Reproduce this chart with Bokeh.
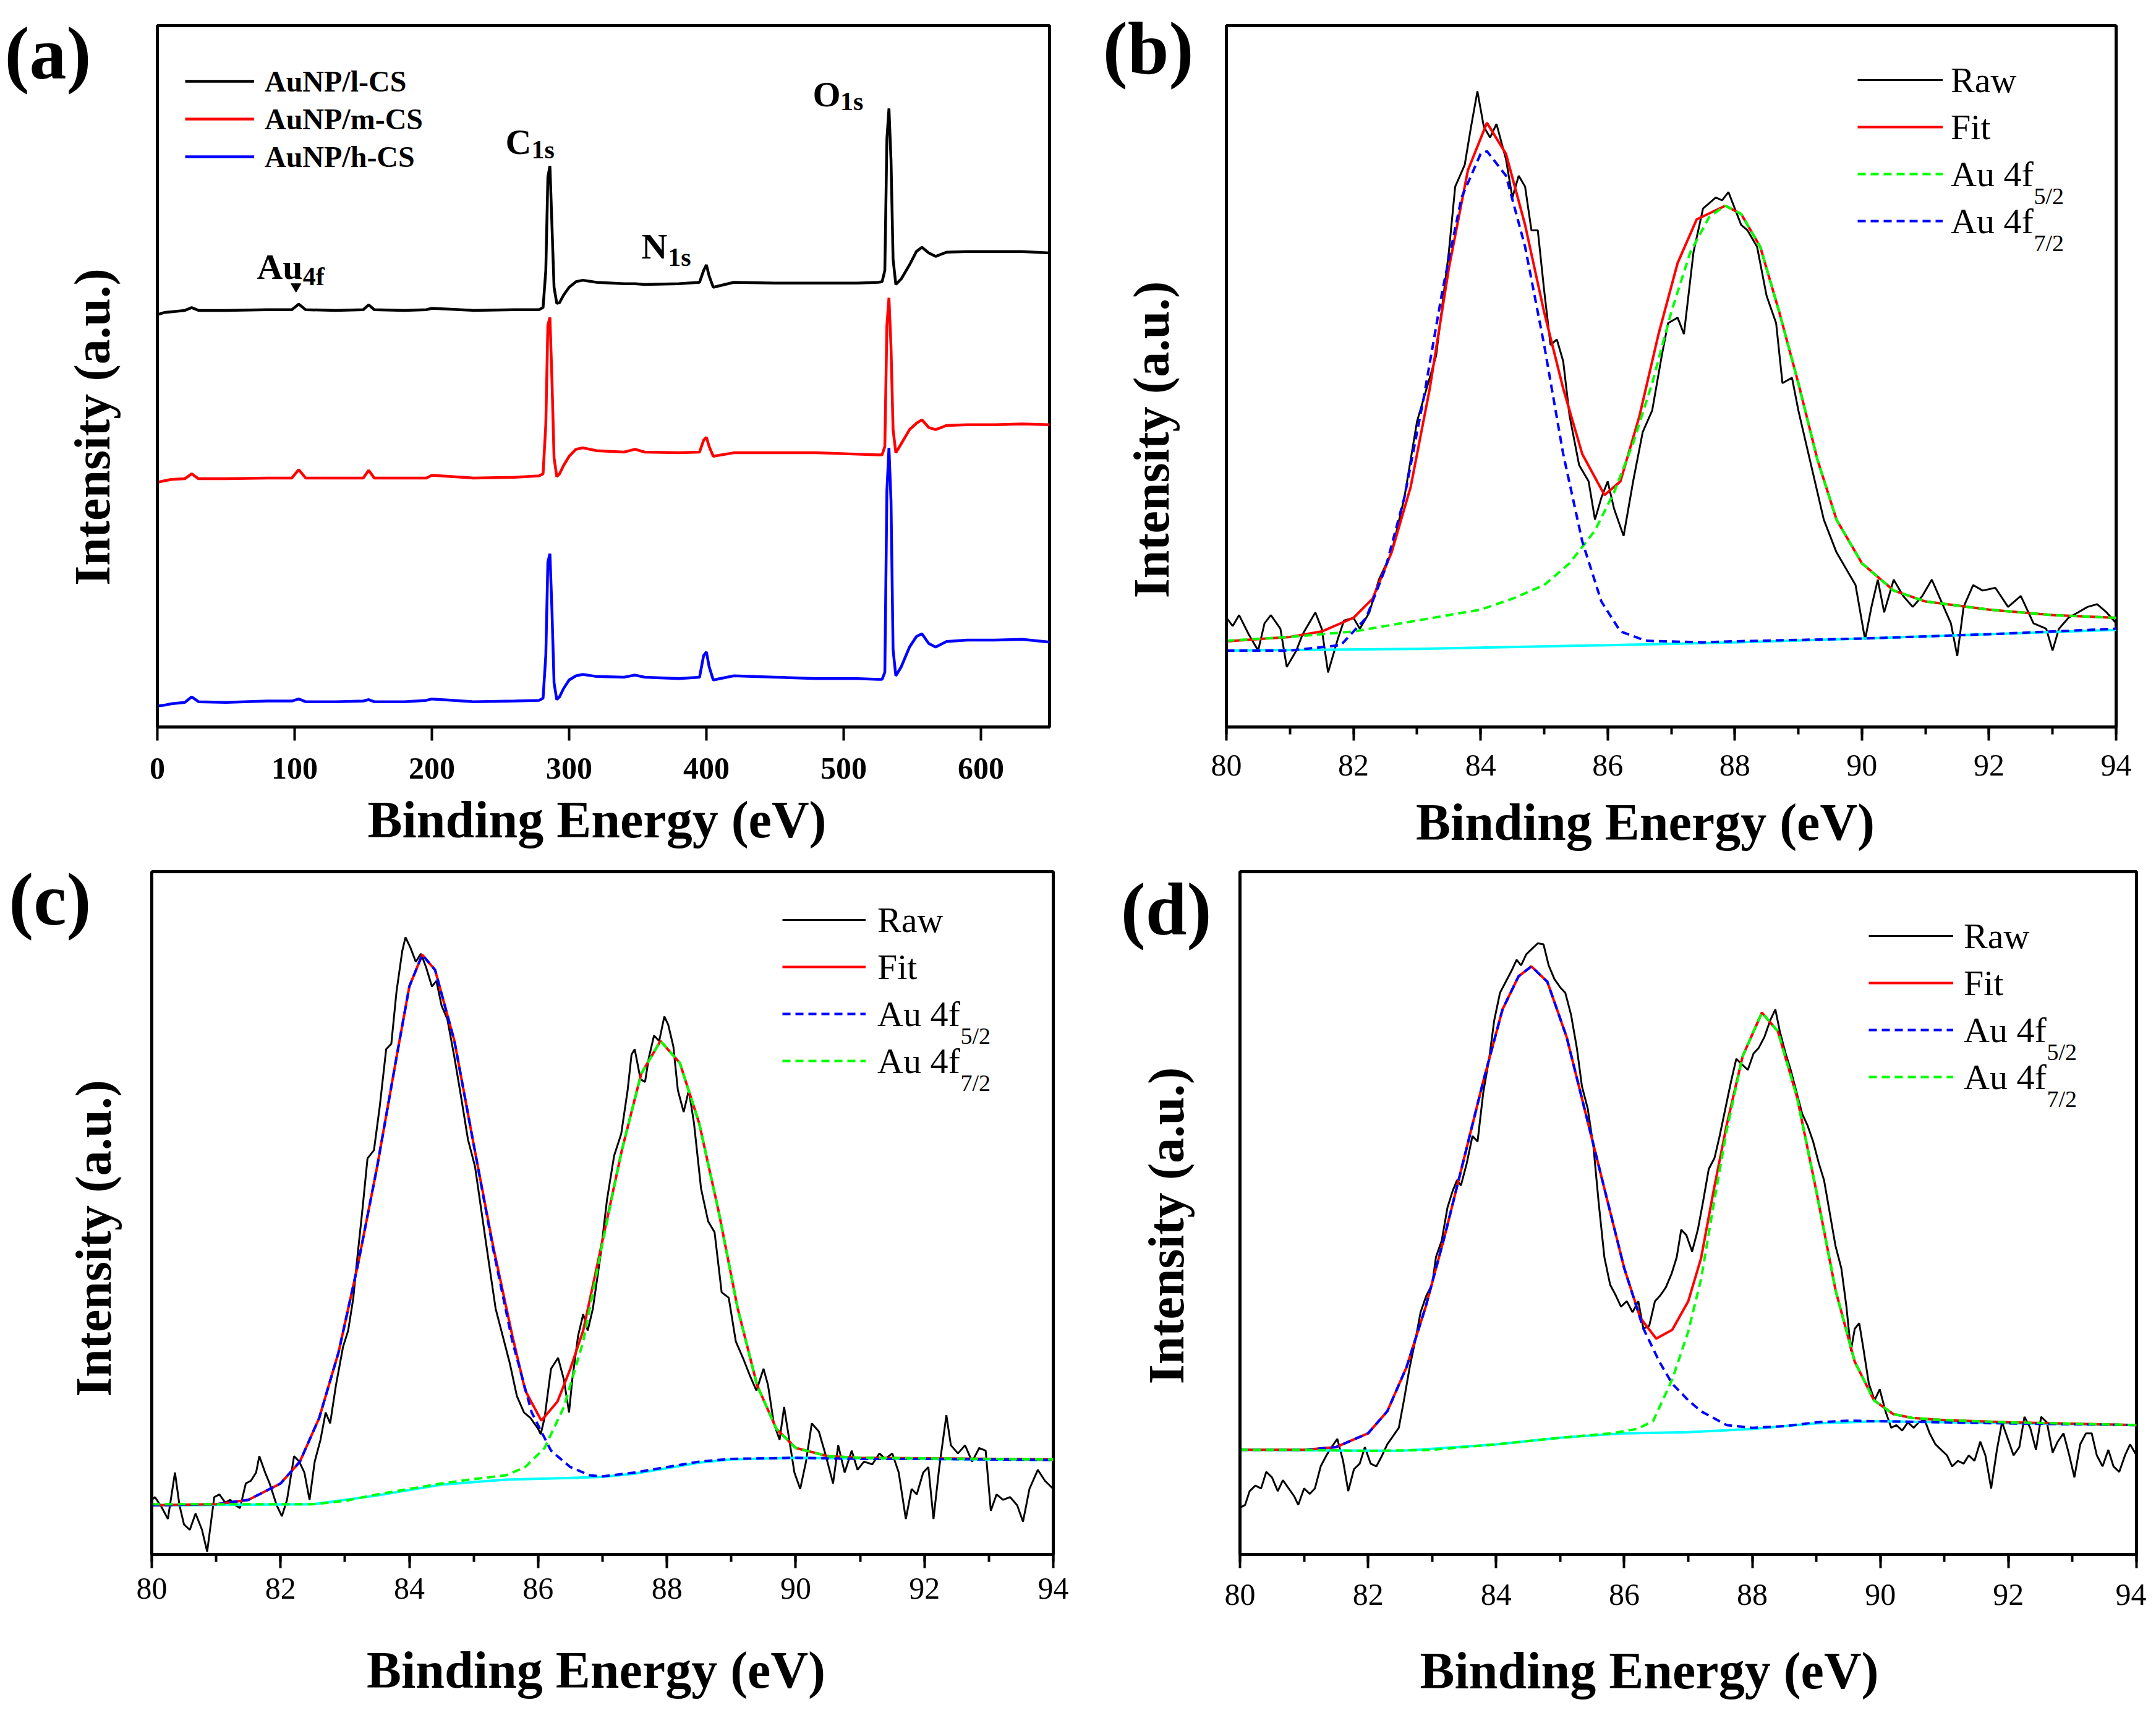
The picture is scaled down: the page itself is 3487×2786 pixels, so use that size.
from bokeh.plotting import figure
from bokeh.models import Range1d, FixedTicker, Legend, LegendItem, Label, ColumnDataSource
from bokeh.layouts import column, row
from bokeh.embed import file_html
from bokeh.resources import INLINE
from bokeh.core.properties import value

FONT = "Liberation Serif"

# ---------------- panel (a): survey spectra ----------------
a_x = [0, 5, 10, 20, 25, 30, 50, 80, 98, 103, 108, 130, 150, 154, 158, 180, 196, 200, 230, 260,
       278, 281, 283, 284.5, 286, 287.5, 289, 291, 293, 296, 300, 305, 310, 320, 340, 348, 355, 380, 395, 398,
       400, 402, 405, 420, 450, 480, 510, 525, 528, 530, 531.5, 533, 534.5, 536, 538, 542, 548, 553, 557, 562,
       567, 575, 590, 610, 630, 650]
a_low = [58.8, 59.1, 59.2, 59.4, 59.8, 59.4, 59.4, 59.5, 59.5, 60.3,
         59.5, 59.4, 59.5, 60.2, 59.5, 59.4, 59.5, 59.7, 59.4, 59.5,
         59.5, 59.8, 65.1, 78.4, 80.0, 71.4, 62.7, 60.4, 60.5, 61.6,
         62.7, 63.5, 63.7, 63.4, 63.2, 63.2, 63.1, 63.2, 63.4, 65.1,
         65.9, 64.3, 62.7, 63.4, 63.3, 63.3, 63.3, 63.4, 63.5, 65.1,
         83.9, 88.2, 80.8, 66.7, 63.1, 63.9, 65.9, 67.8, 68.4, 67.6,
         67.1, 67.7, 67.8, 67.8, 67.8, 67.6]
a_mid = [34.9, 35.1, 35.3, 35.4, 36.1, 35.4, 35.4, 35.5, 35.5, 36.7,
         35.5, 35.5, 35.5, 36.6, 35.5, 35.5, 35.5, 35.9, 35.5, 35.6,
         35.8, 36.1, 43.1, 57.3, 58.4, 49.4, 38.4, 35.7, 36.1, 37.3,
         38.6, 39.6, 39.8, 39.4, 39.2, 39.6, 39.2, 39.1, 39.2, 40.9,
         41.3, 40.0, 38.6, 39.1, 39.1, 39.1, 38.9, 38.8, 38.8, 40.0,
         57.3, 61.2, 54.1, 42.4, 39.1, 40.4, 42.4, 43.3, 43.8, 42.7,
         42.4, 43.0, 43.1, 43.1, 43.2, 43.1]
a_high = [3.0, 3.1, 3.3, 3.5, 4.3, 3.6, 3.5, 3.7, 3.7, 4.0,
          3.6, 3.6, 3.7, 3.9, 3.6, 3.6, 3.8, 4.0, 3.6, 3.7,
          3.8, 4.1, 10.2, 23.5, 24.7, 16.5, 6.3, 3.9, 4.3, 5.5,
          6.7, 7.3, 7.5, 7.2, 7.1, 7.4, 7.1, 6.9, 7.1, 10.2,
          10.7, 8.6, 6.7, 7.3, 7.1, 6.9, 6.9, 6.8, 6.8, 7.8,
          33.7, 39.8, 32.2, 11.0, 7.3, 8.6, 11.4, 12.9, 13.3, 11.9,
          11.4, 12.2, 12.4, 12.4, 12.5, 12.1]
a_series = ["AuNP/l-CS", "AuNP/m-CS", "AuNP/h-CS"]
a_ticks = [0, 100, 200, 300, 400, 500, 600]
a_peak_text = ["Au", "C", "N", "O"]
a_peak_x = [72.5, 253.6, 352.7, 477.5]
a_peak_y = [65.6, 83.4, 68.5, 90.2]
a_sub_text = ["4f", "1s", "1s", "1s"]
a_sub_x = [106.0, 272.5, 372.0, 497.5]
a_sub_y = [64.2, 82.3, 67.0, 89.2]
a_arrow_x = [101]
a_arrow_y = [62.8]

# ---------------- panel (b) ----------------
b_raw_x = [80.0, 80.1, 80.2, 80.35, 80.5, 80.6, 80.7, 80.85, 80.95, 81.1, 81.2, 81.4, 81.5, 81.6, 81.75, 81.85,
           82.0, 82.1, 82.25, 82.4, 82.6, 82.8, 83.0, 83.1, 83.3, 83.5, 83.6, 83.75, 83.85, 83.95, 84.05, 84.15,
           84.25, 84.4, 84.5, 84.6, 84.7, 84.8, 84.9, 85.0, 85.1, 85.2, 85.3, 85.4, 85.55, 85.7, 85.8, 85.9,
           86.0, 86.1, 86.25, 86.4, 86.55, 86.7, 86.85, 86.95, 87.1, 87.2, 87.35, 87.5, 87.6, 87.7, 87.8, 87.9,
           88.0, 88.1, 88.2, 88.35, 88.5, 88.65, 88.75, 88.9, 89.0, 89.2, 89.4, 89.6, 89.75, 89.9, 90.05, 90.15,
           90.25, 90.35, 90.5, 90.65, 90.8, 90.95, 91.1, 91.25, 91.4, 91.5, 91.6, 91.75, 91.9, 92.1, 92.3, 92.5,
           92.7, 92.9, 93.0, 93.1, 93.25, 93.4, 93.55, 93.7, 93.85, 94.0]
b_raw_y = [200, 185, 205, 170, 140, 190, 205, 180, 110, 140, 170, 210, 180, 100, 160, 195,
           200, 180, 210, 270, 320, 420, 560, 600, 680, 870, 990, 1030, 1100, 1165, 1100, 1080,
           1105, 1040, 970, 1010, 990, 910, 910, 800, 700, 710, 670, 570, 480, 450, 380, 420,
           450, 400, 350, 450, 540, 580, 680, 740, 750, 720, 870, 950, 960, 970, 965, 980,
           950, 920, 910, 880, 790, 740, 630, 640, 580, 480, 380, 320, 290, 260, 160, 220,
           270, 210, 270, 240, 220, 240, 270, 230, 190, 130, 220, 260, 250, 255, 220, 240,
           190, 180, 140, 180, 200, 210, 220, 225, 210, 190]
b_fit_x = [80, 81, 81.5, 82, 82.3, 82.6, 82.9, 83.2, 83.5, 83.8, 84.1, 84.4, 84.7, 85.0, 85.3, 85.6, 85.95,
           86.2, 86.5, 86.8, 87.1, 87.4, 87.85, 88.1, 88.4, 88.7, 89.0, 89.3, 89.6, 90.0, 90.5, 91, 92, 93, 94]
b_fit_y = [157, 165, 175, 200, 235, 320, 440, 620, 840, 1020, 1107, 1050, 920, 760, 620, 500, 425,
           450, 570, 720, 850, 930, 955, 940, 880, 760, 630, 490, 380, 300, 250, 230, 215, 205, 200]
b_p1_x = [80, 81, 82, 83, 84, 84.5, 85, 85.4, 85.8, 86.1, 86.4, 86.7, 87, 87.3, 87.6, 87.85, 88.1, 88.4,
          88.7, 89, 89.3, 89.6, 90, 90.5, 91, 92, 93, 94]
b_p1_y = [158, 165, 175, 195, 215, 235, 260, 300, 360, 430, 520, 630, 760, 870, 935, 955, 940, 880,
          760, 630, 490, 380, 300, 250, 230, 215, 205, 200]
b_p2_x = [80, 81, 81.8, 82.2, 82.5, 82.8, 83.1, 83.4, 83.7, 84.0, 84.1, 84.4, 84.7, 85.0, 85.3, 85.6,
          85.9, 86.2, 86.6, 87.5, 88, 90, 92, 94]
b_p2_y = [140, 140, 150, 200, 290, 420, 600, 800, 970, 1050, 1055, 1010, 880, 700, 500, 340,
          230, 175, 158, 155, 157, 162, 170, 180]
b_bg_x = [80, 83, 86, 88, 90, 92, 94]
b_bg_y = [140, 143, 150, 155, 162, 170, 178]

# ---------------- panel (c) ----------------
c_raw_x = [80.0, 80.05, 80.16, 80.25, 80.36, 80.43, 80.5, 80.59, 80.68, 80.78, 80.86, 80.97, 81.05, 81.14,
           81.22, 81.3, 81.37, 81.46, 81.54, 81.62, 81.67, 81.76, 81.83, 81.94, 82.02, 82.1, 82.21, 82.29,
           82.37, 82.45, 82.53, 82.62, 82.7, 82.77, 82.86, 82.97, 83.05, 83.13, 83.18, 83.27, 83.35, 83.45,
           83.54, 83.64, 83.72, 83.8, 83.89, 83.94, 84.02, 84.1, 84.18, 84.26, 84.35, 84.42, 84.5, 84.59,
           84.7, 84.8, 84.91, 85.02, 85.13, 85.24, 85.34, 85.45, 85.56, 85.67, 85.78, 85.88, 86.0, 86.04,
           86.1, 86.2, 86.31, 86.4, 86.48, 86.53, 86.62, 86.7, 86.77, 86.85, 86.96, 87.07, 87.18, 87.29,
           87.39, 87.45, 87.5, 87.59, 87.66, 87.72, 87.8, 87.88, 87.96, 88.02, 88.1, 88.17, 88.26, 88.34,
           88.42, 88.53, 88.64, 88.74, 88.85, 88.96, 89.07, 89.18, 89.28, 89.39, 89.5, 89.57, 89.66, 89.75,
           89.82, 89.9, 89.98, 90.07, 90.16, 90.25, 90.36, 90.47, 90.58, 90.66, 90.76, 90.87, 90.96, 91.06,
           91.19, 91.3, 91.39, 91.5, 91.6, 91.71, 91.8, 91.88, 91.98, 92.06, 92.14, 92.23, 92.34, 92.41,
           92.52, 92.63, 92.74, 92.85, 92.95, 93.03, 93.12, 93.22, 93.33, 93.44, 93.53, 93.63, 93.76, 93.87,
           94.0]
c_raw_y = [100, 105, 85, 65, 150, 90, 55, 45, 75, 45, 5, 105, 110, 95,
           100, 90, 85, 130, 135, 150, 180, 150, 130, 90, 70, 100, 180, 170,
           150, 100, 170, 210, 260, 240, 310, 380, 410, 470, 530, 630, 725, 740,
           820, 925, 935, 1030, 1105, 1130, 1110, 1085, 1100, 1075, 1040, 1050, 1005, 980,
           910, 840, 760, 710, 620, 530, 450, 400, 350, 290, 260, 250, 230, 220,
           250, 340, 360, 320, 260, 320, 400, 440, 410, 450, 540, 650, 730, 770,
           850, 915, 925, 870, 865, 910, 950, 940, 985, 970, 930, 850, 810, 850,
           790, 670, 610, 590, 480, 470, 390, 360, 330, 300, 340, 310, 240, 210,
           270, 210, 150, 120, 170, 240, 225, 180, 130, 200, 150, 190, 155, 170,
           165, 185, 175, 185, 150, 65, 120, 110, 150, 160, 65, 160, 255, 200,
           185, 200, 170, 195, 190, 80, 110, 100, 105, 90, 60, 120, 155, 135,
           120]
c_fit_x = [80, 81, 81.5, 82, 82.3, 82.6, 82.9, 83.2, 83.5, 83.8, 84.0, 84.2, 84.4, 84.7, 85.0, 85.3, 85.6,
           85.8, 86.05, 86.3, 86.5, 86.7, 87.0, 87.3, 87.6, 87.9, 88.2, 88.5, 88.8, 89.1, 89.4, 89.7, 90.0,
           90.5, 91, 92, 94]
c_fit_y = [90, 92, 100, 130, 170, 250, 370, 530, 710, 910, 1040, 1098, 1070, 940, 750, 565, 400,
           300, 245, 280, 340, 410, 575, 740, 880, 940, 900, 790, 630, 450, 310, 230, 195,
           180, 177, 176, 174]
c_p1_x = [80, 81, 81.5, 82, 82.3, 82.6, 82.9, 83.2, 83.5, 83.8, 84.0, 84.2, 84.4, 84.7, 85.0, 85.3, 85.6,
          85.9, 86.2, 86.5, 86.8, 87.0, 87.5, 88.0, 88.5, 89.0, 90.0, 91.0, 92.0, 94.0]
c_p1_y = [90, 92, 100, 130, 170, 250, 370, 530, 710, 910, 1040, 1098, 1070, 940, 750, 560, 390,
          260, 190, 160, 145, 143, 150, 160, 170, 175, 177, 175, 175, 173]
c_p2_x = [80, 81, 82, 82.5, 83, 83.5, 84, 84.5, 85, 85.5, 85.8, 86.1, 86.4, 86.7, 87.0, 87.3, 87.6, 87.9,
          88.2, 88.5, 88.8, 89.1, 89.4, 89.7, 90.0, 90.5, 91, 92, 94]
c_p2_y = [92, 92, 92, 92, 98, 110, 120, 130, 138, 145, 160, 195, 270, 390, 570, 740, 880, 940,
          900, 790, 630, 450, 310, 230, 195, 180, 177, 176, 174]
c_bg_x = [80, 82.5, 83.5, 84.5, 85.5, 86.5, 87.0, 87.5, 88.0, 88.5, 89.0, 90.0, 94.0]
c_bg_y = [90, 92, 108, 128, 137, 140, 142, 148, 158, 168, 174, 177, 173]

# ---------------- panel (d) ----------------
d_raw_x = [80.0, 80.08, 80.15, 80.24, 80.33, 80.41, 80.5, 80.59, 80.67, 80.76, 80.85, 80.91, 81.0, 81.09,
           81.17, 81.26, 81.35, 81.43, 81.52, 81.61, 81.69, 81.78, 81.87, 81.95, 82.04, 82.13, 82.22, 82.3,
           82.39, 82.48, 82.56, 82.65, 82.74, 82.82, 82.91, 83.0, 83.06, 83.15, 83.24, 83.32, 83.39, 83.45,
           83.54, 83.63, 83.71, 83.8, 83.89, 83.97, 84.06, 84.15, 84.24, 84.32, 84.39, 84.47, 84.56, 84.65,
           84.74, 84.82, 84.91, 85.0, 85.08, 85.17, 85.26, 85.34, 85.43, 85.52, 85.6, 85.69, 85.78, 85.87,
           85.95, 86.04, 86.13, 86.22, 86.3, 86.39, 86.48, 86.56, 86.65, 86.74, 86.82, 86.89, 86.97, 87.06,
           87.15, 87.23, 87.32, 87.41, 87.49, 87.58, 87.67, 87.75, 87.84, 87.93, 88.02, 88.1, 88.19, 88.28,
           88.36, 88.43, 88.52, 88.6, 88.69, 88.78, 88.86, 88.95, 89.04, 89.12, 89.21, 89.3, 89.39, 89.47,
           89.54, 89.6, 89.67, 89.74, 89.82, 89.91, 89.99, 90.08, 90.17, 90.25, 90.34, 90.43, 90.52, 90.6,
           90.69, 90.77, 90.86, 90.95, 91.04, 91.12, 91.21, 91.3, 91.38, 91.47, 91.56, 91.64, 91.73, 91.82,
           91.9, 91.99, 92.08, 92.17, 92.25, 92.34, 92.43, 92.51, 92.6, 92.69, 92.77, 92.86, 92.95, 93.03,
           93.12, 93.21, 93.3, 93.38, 93.47, 93.56, 93.64, 93.73, 93.82, 93.9, 94.0]
d_raw_y = [85, 90, 115, 125, 120, 150, 140, 115, 135, 120, 105, 90, 120, 110,
           120, 160, 180, 195, 210, 170, 115, 155, 165, 195, 165, 160, 180, 200,
           215, 230, 280, 340, 390, 440, 470, 490, 540, 570, 630, 660, 680, 670,
           710, 760, 750, 840, 900, 970, 1020, 1040, 1060, 1080, 1070, 1090, 1100, 1110,
           1108, 1070, 1045, 1030, 1020, 980, 920, 850, 810, 740, 640, 540, 490, 470,
           450, 460, 440, 460, 410, 415, 460, 470, 485, 510, 540, 590, 580, 550,
           590, 640, 700, 720, 760, 810, 860, 900, 890, 880, 910, 920, 940, 970,
           990, 950, 910, 880, 840, 800, 780, 750, 710, 680, 620, 560, 520, 450,
           370, 410, 420, 370, 310, 280, 300, 260, 230, 235, 225, 240, 230, 240,
           245, 220, 200, 190, 180, 160, 170, 165, 180, 170, 205, 180, 120, 190,
           240, 210, 180, 195, 250, 230, 190, 250, 240, 185, 205, 220, 180, 140,
           200, 220, 220, 180, 160, 190, 160, 150, 180, 200, 180]
d_fit_x = [80, 81, 81.5, 82, 82.3, 82.6, 82.9, 83.2, 83.5, 83.8, 84.1, 84.35, 84.55, 84.8, 85.1, 85.4, 85.7,
           86.0, 86.25, 86.5, 86.75, 87.0, 87.2, 87.4, 87.6, 87.85, 88.15, 88.4, 88.7, 89.0, 89.3, 89.6,
           89.9, 90.2, 90.5, 91, 92, 94]
d_fit_y = [190, 190, 195, 220, 260, 340, 450, 580, 720, 860, 990, 1050, 1068, 1040, 940, 800, 660,
           520, 430, 392, 408, 460, 538, 663, 780, 905, 984, 950, 830, 660, 480, 350,
           280, 255, 248, 244, 240, 235]
d_p1_x = [80, 81, 81.5, 82, 82.3, 82.6, 82.9, 83.2, 83.5, 83.8, 84.1, 84.35, 84.55, 84.8, 85.1, 85.4, 85.7,
          86.0, 86.3, 86.55, 86.75, 87.0, 87.2, 87.6, 88.0, 88.5, 89.0, 89.5, 90.0, 91.0, 92.0, 94.0]
d_p1_y = [190, 190, 195, 220, 260, 340, 450, 580, 720, 860, 990, 1050, 1068, 1040, 940, 800, 660,
          520, 410, 350, 310, 280, 260, 235, 230, 233, 240, 243, 242, 240, 238, 235]
d_p2_x = [80, 81, 82, 83, 84, 85, 85.8, 86.2, 86.45, 86.75, 87.0, 87.2, 87.4, 87.6, 87.85, 88.15, 88.4,
          88.7, 89.0, 89.3, 89.6, 89.9, 90.2, 90.5, 91, 92, 94]
d_p2_y = [190, 190, 188, 190, 200, 212, 220, 228, 242, 318, 405, 500, 638, 770, 905, 984, 950,
          830, 660, 480, 350, 280, 255, 248, 244, 240, 235]
d_bg_x = [80, 82.5, 84, 85, 86, 87, 88, 89, 90, 94]
d_bg_y = [190, 188, 200, 212, 220, 222, 228, 238, 242, 235]

hr_ticks = [80, 82, 84, 86, 88, 90, 92, 94]
hr_minor = [80, 81, 82, 83, 84, 85, 86, 87, 88, 89, 90, 91, 92, 93, 94]
fit_labels = ["Raw", "Fit", "Au 4f", "Au 4f"]
fit_subs = ["5/2", "7/2"]
panel_names = ["(a)", "(b)", "(c)", "(d)"]
XLABEL = "Binding Energy (eV)"
YLABEL = "Intensity (a.u.)"

BLACK, RED, BLUE, GREEN, CYAN = "#000000", "#FF0000", "#0000FF", "#00FF00", "#00FFFF"
DASH = "13 8"
NBSP = "\u00a0"


def make_fig(w, h, bl, br, bt, bb, xr, yr, ticks, minor, bold_ticks, tick_standoff, xlab_standoff, xlab_pad,
             name, name_y, name_standoff, ylab_standoff, ylab_pad):
    p = figure(width=w, height=h, min_border_left=bl, min_border_right=br, min_border_top=bt,
               min_border_bottom=bb, x_range=Range1d(*xr), y_range=Range1d(*yr),
               output_backend="svg", toolbar_location=None, tools="")
    p.grid.visible = False
    p.outline_line_color = "black"
    p.outline_line_width = 5
    p.background_fill_color = "white"
    p.border_fill_color = "white"
    xa = p.xaxis[0]
    xa.ticker = FixedTicker(ticks=ticks, minor_ticks=minor)
    xa.axis_line_width = 5
    xa.major_tick_line_width = 4
    xa.major_tick_out = 22
    xa.major_tick_in = 0
    if minor:
        xa.minor_tick_line_width = 4
        xa.minor_tick_out = 12
        xa.minor_tick_in = 0
    else:
        xa.minor_tick_line_color = None
    xa.major_label_text_font = FONT
    xa.major_label_text_font_size = "50px"
    xa.major_label_text_color = "black"
    xa.major_label_text_font_style = "bold" if bold_ticks else "normal"
    xa.major_label_standoff = tick_standoff
    # trailing no-break spaces nudge the centred label left, as in the original figure
    xa.axis_label = XLABEL + NBSP * xlab_pad
    xa.axis_label_text_font = FONT
    xa.axis_label_text_font_size = "84px"
    xa.axis_label_text_font_style = "bold"
    xa.axis_label_text_color = "black"
    xa.axis_label_standoff = xlab_standoff
    ya = p.yaxis[0]
    # the panel letter sits beside the top of the frame: drawn as the single (unmarked) tick label
    ya.ticker = FixedTicker(ticks=[name_y])
    ya.major_label_overrides = {name_y: name}
    ya.axis_line_width = 5
    ya.major_tick_out = 0
    ya.major_tick_in = 0
    ya.minor_tick_line_color = None
    ya.major_tick_line_color = None
    ya.major_label_standoff = name_standoff
    ya.major_label_text_font = FONT
    ya.major_label_text_font_size = "120px"
    ya.major_label_text_font_style = "bold"
    ya.major_label_text_color = "black"
    # trailing no-break spaces shift the centred label down, as in the original figure
    ya.axis_label = YLABEL + NBSP * ylab_pad
    ya.axis_label_text_font = FONT
    ya.axis_label_text_font_size = "82px"
    ya.axis_label_text_font_style = "bold"
    ya.axis_label_text_color = "black"
    ya.axis_label_standoff = ylab_standoff
    return p


def add_legend(p, items, loc, gw, gh, spacing, standoff, size, bold):
    leg = Legend(items=items, location=loc, orientation="vertical", border_line_color=None,
                 background_fill_alpha=0, padding=0, margin=0, spacing=spacing, glyph_width=gw,
                 glyph_height=gh, label_height=gh, label_standoff=standoff, label_text_font=FONT,
                 label_text_font_size=size, label_text_font_style="bold" if bold else "normal",
                 label_text_color="black")
    p.add_layout(leg)


def fit_panel(p, raw_x, raw_y, fit_x, fit_y, ax_, ay_, bx_, by_, bgx, bgy, acol, bcol, loc, gw, standoff):
    r_raw = p.line(raw_x, raw_y, line_color=BLACK, line_width=3)
    p.line(bgx, bgy, line_color=CYAN, line_width=4)
    r_fit = p.line(fit_x, fit_y, line_color=RED, line_width=4)
    r_a = p.line(ax_, ay_, line_color=acol, line_width=4, line_dash=DASH)
    r_b = p.line(bx_, by_, line_color=bcol, line_width=4, line_dash=DASH)
    items = [LegendItem(label=fit_labels[0], renderers=[r_raw]),
             LegendItem(label=fit_labels[1], renderers=[r_fit]),
             LegendItem(label=fit_labels[2], renderers=[r_a]),
             LegendItem(label=fit_labels[3], renderers=[r_b])]
    add_legend(p, items, loc, gw, 70, 6, standoff, "58px", False)
    lx, ly = loc
    sx = lx + gw + standoff + 134
    for k, s in zip([1, 0], fit_subs):
        p.add_layout(Label(x=sx, y=ly + 76 * k, x_units="screen", y_units="screen", text=s,
                           text_font=FONT, text_font_size="38px", text_color="black",
                           text_align="left", text_baseline="alphabetic"))


# ---- (a)
pa = make_fig(1760, 1380, 254, 63, 41, 201, (0, 650), (0, 100), a_ticks, [], True, 28, 17, 1,
              panel_names[0], 96, 107, -190, 8)
src_a = ColumnDataSource(dict(x=a_x, low=a_low, mid=a_mid, high=a_high))
ra1 = pa.line("x", "low", source=src_a, line_color=BLACK, line_width=4.5)
ra2 = pa.line("x", "mid", source=src_a, line_color=RED, line_width=4.5)
ra3 = pa.line("x", "high", source=src_a, line_color=BLUE, line_width=4.5)
add_legend(pa, [LegendItem(label=a_series[0], renderers=[ra1]),
                LegendItem(label=a_series[1], renderers=[ra2]),
                LegendItem(label=a_series[2], renderers=[ra3])],
           (45, 894), 112, 56, 5, 17, "48px", True)
pa.text(x=a_peak_x, y=a_peak_y, text=a_peak_text, text_font=value(FONT), text_font_style="bold",
        text_font_size="58px", text_color="black", text_align="left", text_baseline="alphabetic")
pa.text(x=a_sub_x, y=a_sub_y, text=a_sub_text, text_font=value(FONT), text_font_style="bold",
        text_font_size="42px", text_color="black", text_align="left", text_baseline="alphabetic")
pa.scatter(x=a_arrow_x, y=a_arrow_y, marker="inverted_triangle", size=16, color="black")

# ---- (b)
pb = make_fig(1711, 1380, 223, 49, 23, 205, (80, 94), (0, 1285), hr_ticks, hr_minor, False, 23, 26, 4,
              panel_names[1], 1243, 53, -127, 10)
fit_panel(pb, b_raw_x, b_raw_y, b_fit_x, b_fit_y, b_p1_x, b_p1_y, b_p2_x, b_p2_y, b_bg_x, b_bg_y,
          GREEN, BLUE, (1021, 783), 138, 13)

# ---- (c)
pc = make_fig(1760, 1390, 245, 57, 10, 257, (80, 94), (0, 1250), hr_ticks, hr_minor, False, 16, 66, 1,
              panel_names[2], 1199, 98, -186, 4)
fit_panel(pc, c_raw_x, c_raw_y, c_fit_x, c_fit_y, c_p1_x, c_p1_y, c_p2_x, c_p2_y, c_bg_x, c_bg_y,
          BLUE, GREEN, (1020, 763), 135, 19)

# ---- (d)
pd = make_fig(1711, 1390, 245, 16, 29, 247, (80, 94), (0, 1240), hr_ticks, hr_minor, False, 26, 57, 6,
              panel_names[3], 1224, 46, -122, 2)
fit_panel(pd, d_raw_x, d_raw_y, d_fit_x, d_fit_y, d_p1_x, d_p1_y, d_p2_x, d_p2_y, d_bg_x, d_bg_y,
          BLUE, GREEN, (1017, 737), 137, 17)

layout = column(row(pa, pb, spacing=0), row(pc, pd, spacing=0), spacing=0)
open("out.html", "w").write(file_html(layout, INLINE, title="XPS"))
